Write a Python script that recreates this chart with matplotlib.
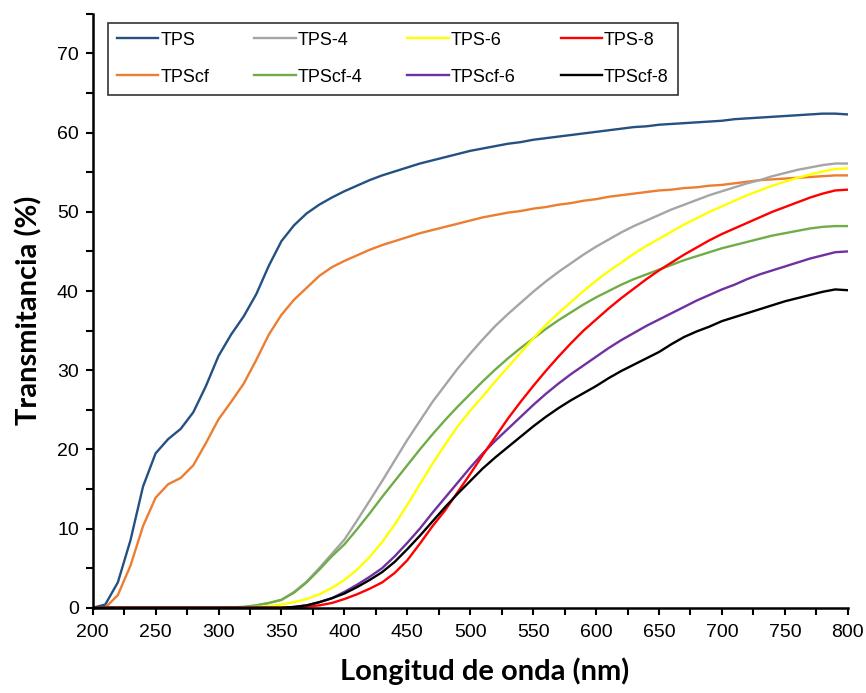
import numpy as np
import matplotlib
matplotlib.use("Agg")
import matplotlib.pyplot as plt
from matplotlib.ticker import MultipleLocator

# wavelength grid (nm), 10 nm steps
WL = list(range(200, 801, 10))

ZERO_10 = [0.0] * 10  # 200..290 nm for the coloured-film samples

TPS = [0.0, 0.4, 3.2, 8.5, 15.3, 19.5, 21.3, 22.6, 24.7, 28.0,
       31.8, 34.5, 36.8, 39.6, 43.2, 46.3, 48.3, 49.8, 50.9, 51.8,
       52.6, 53.3, 54.0, 54.6, 55.1, 55.6, 56.1, 56.5, 56.9, 57.3,
       57.7, 58.0, 58.3, 58.6, 58.8, 59.1, 59.3, 59.5, 59.7, 59.9,
       60.1, 60.3, 60.5, 60.7, 60.8, 61.0, 61.1, 61.2, 61.3, 61.4,
       61.5, 61.7, 61.8, 61.9, 62.0, 62.1, 62.2, 62.3, 62.4, 62.4, 62.3]
TPScf = [0.0, 0.0, 1.6, 5.3, 10.3, 13.9, 15.6, 16.4, 18.0, 20.8,
         23.8, 26.0, 28.3, 31.3, 34.5, 37.0, 38.9, 40.4, 41.9, 43.0,
         43.8, 44.5, 45.2, 45.8, 46.3, 46.8, 47.3, 47.7, 48.1, 48.5,
         48.9, 49.3, 49.6, 49.9, 50.1, 50.4, 50.6, 50.9, 51.1, 51.4,
         51.6, 51.9, 52.1, 52.3, 52.5, 52.7, 52.8, 53.0, 53.1, 53.3,
         53.4, 53.6, 53.8, 54.0, 54.1, 54.2, 54.3, 54.4, 54.5, 54.6, 54.6]
TPS_4 = ZERO_10 + [0.0, 0.05, 0.1, 0.3, 0.6, 1.0, 2.0, 3.3, 5.0, 6.8,
                   8.6, 11.0, 13.5, 16.0, 18.6, 21.2, 23.6, 26.0, 28.1, 30.2,
                   32.1, 33.9, 35.6, 37.1, 38.5, 39.9, 41.2, 42.4, 43.5, 44.6,
                   45.6, 46.5, 47.4, 48.2, 48.9, 49.6, 50.3, 50.9, 51.5, 52.1,
                   52.6, 53.1, 53.6, 54.0, 54.5, 54.9, 55.3, 55.6, 55.9, 56.1, 56.1]
TPScf_4 = ZERO_10 + [0.0, 0.05, 0.1, 0.3, 0.6, 1.0, 1.9, 3.2, 4.8, 6.5,
                     8.0, 9.9, 11.9, 14.0, 16.0, 18.0, 20.0, 21.9, 23.7, 25.4,
                     27.0, 28.6, 30.1, 31.5, 32.8, 34.0, 35.2, 36.3, 37.3, 38.3,
                     39.2, 40.0, 40.8, 41.5, 42.1, 42.7, 43.3, 43.9, 44.4, 44.9,
                     45.4, 45.8, 46.2, 46.6, 47.0, 47.3, 47.6, 47.9, 48.1, 48.2, 48.2]
TPS_6 = ZERO_10 + [0.0, 0.0, 0.05, 0.1, 0.2, 0.4, 0.7, 1.1, 1.7, 2.5,
                   3.5, 4.8, 6.4, 8.3, 10.5, 13.0, 15.6, 18.2, 20.6, 22.9,
                   24.9, 26.7, 28.6, 30.4, 32.2, 34.0, 35.7, 37.2, 38.6, 40.0,
                   41.3, 42.5, 43.6, 44.7, 45.7, 46.6, 47.5, 48.4, 49.2, 50.0,
                   50.7, 51.4, 52.1, 52.7, 53.3, 53.8, 54.3, 54.7, 55.1, 55.4, 55.5]
TPScf_6 = ZERO_10 + [0.0, 0.0, 0.0, 0.0, 0.0, 0.0, 0.1, 0.3, 0.7, 1.2,
                     2.0, 2.9, 3.9, 5.0, 6.5, 8.2, 10.0, 12.0, 13.9, 15.8,
                     17.7, 19.5, 21.1, 22.6, 24.1, 25.6, 27.0, 28.3, 29.5, 30.6,
                     31.7, 32.8, 33.8, 34.7, 35.6, 36.4, 37.2, 38.0, 38.8, 39.5,
                     40.2, 40.8, 41.5, 42.1, 42.6, 43.1, 43.6, 44.1, 44.5, 44.9, 45.0]
TPS_8 = ZERO_10 + [0.0, 0.0, 0.0, 0.0, 0.0, 0.0, 0.05, 0.15, 0.3, 0.6,
                   1.1, 1.7, 2.4, 3.2, 4.4, 6.0, 8.1, 10.3, 12.3, 14.6,
                   16.9, 19.3, 21.6, 23.9, 26.0, 28.0, 29.9, 31.7, 33.4, 35.0,
                   36.4, 37.8, 39.1, 40.3, 41.5, 42.6, 43.6, 44.6, 45.5, 46.4,
                   47.2, 47.9, 48.6, 49.3, 50.0, 50.6, 51.2, 51.8, 52.3, 52.7, 52.8]
TPScf_8 = ZERO_10 + [0.0, 0.0, 0.0, 0.0, 0.0, 0.0, 0.1, 0.3, 0.7, 1.2,
                     1.8, 2.6, 3.5, 4.5, 5.8, 7.4, 9.1, 10.9, 12.7, 14.4,
                     16.0, 17.6, 19.0, 20.3, 21.6, 22.9, 24.1, 25.2, 26.2, 27.1,
                     28.0, 29.0, 29.9, 30.7, 31.5, 32.3, 33.3, 34.2, 34.9, 35.5,
                     36.2, 36.7, 37.2, 37.7, 38.2, 38.7, 39.1, 39.5, 39.9, 40.2, 40.1]

# legend order fills column by column (ncol=4) -> row1 TPS*, row2 TPScf*
SERIES = [("TPS", TPS, "#245082"), ("TPScf", TPScf, "#ED7D31"),
          ("TPS-4", TPS_4, "#A5A5A5"), ("TPScf-4", TPScf_4, "#70AD47"),
          ("TPS-6", TPS_6, "#FFFF00"), ("TPScf-6", TPScf_6, "#7030A0"),
          ("TPS-8", TPS_8, "#FF0000"), ("TPScf-8", TPScf_8, "#000000")]

plt.rcParams["font.family"] = ["Liberation Sans", "DejaVu Sans"]

fig = plt.figure(figsize=(8.66, 6.93), dpi=100)
ax = fig.add_axes([0.107, 0.123, 0.872, 0.857])

for name, y, col in SERIES:
    ax.plot(WL, y, color=col, lw=1.7, label=name)

ax.set_xlim(200, 800)
ax.set_ylim(0, 75)
ax.xaxis.set_major_locator(MultipleLocator(50))
ax.xaxis.set_minor_locator(MultipleLocator(25))
ax.yaxis.set_major_locator(MultipleLocator(10))
ax.yaxis.set_minor_locator(MultipleLocator(5))
ax.tick_params(which="both", direction="out", length=5, width=1.5, labelsize=14)
ax.tick_params(axis="x", pad=7)
ax.tick_params(axis="y", pad=5)
for s in ["top", "right"]:
    ax.spines[s].set_visible(False)
for s in ["left", "bottom"]:
    ax.spines[s].set_linewidth(1.8)

lab_font = dict(family=["Lato", "DejaVu Sans"], weight="bold", size=21)
ax.set_xlabel("Longitud de onda (nm)", **lab_font)
ax.set_ylabel("Transmitancia (%)", **lab_font)
ax.xaxis.set_label_coords(0.519, -0.083)
ax.yaxis.set_label_coords(-0.067, 0.5)

leg = ax.legend(ncol=4, loc="upper left", bbox_to_anchor=(0.020, 0.985),
                fontsize=13, frameon=True, fancybox=False, handlelength=2.3,
                handletextpad=0.1, columnspacing=2.5, borderpad=0.5,
                labelspacing=1.1, borderaxespad=0)
leg.get_frame().set_edgecolor("black")
leg.get_frame().set_linewidth(1.2)

fig.savefig("out.png", dpi=100)
